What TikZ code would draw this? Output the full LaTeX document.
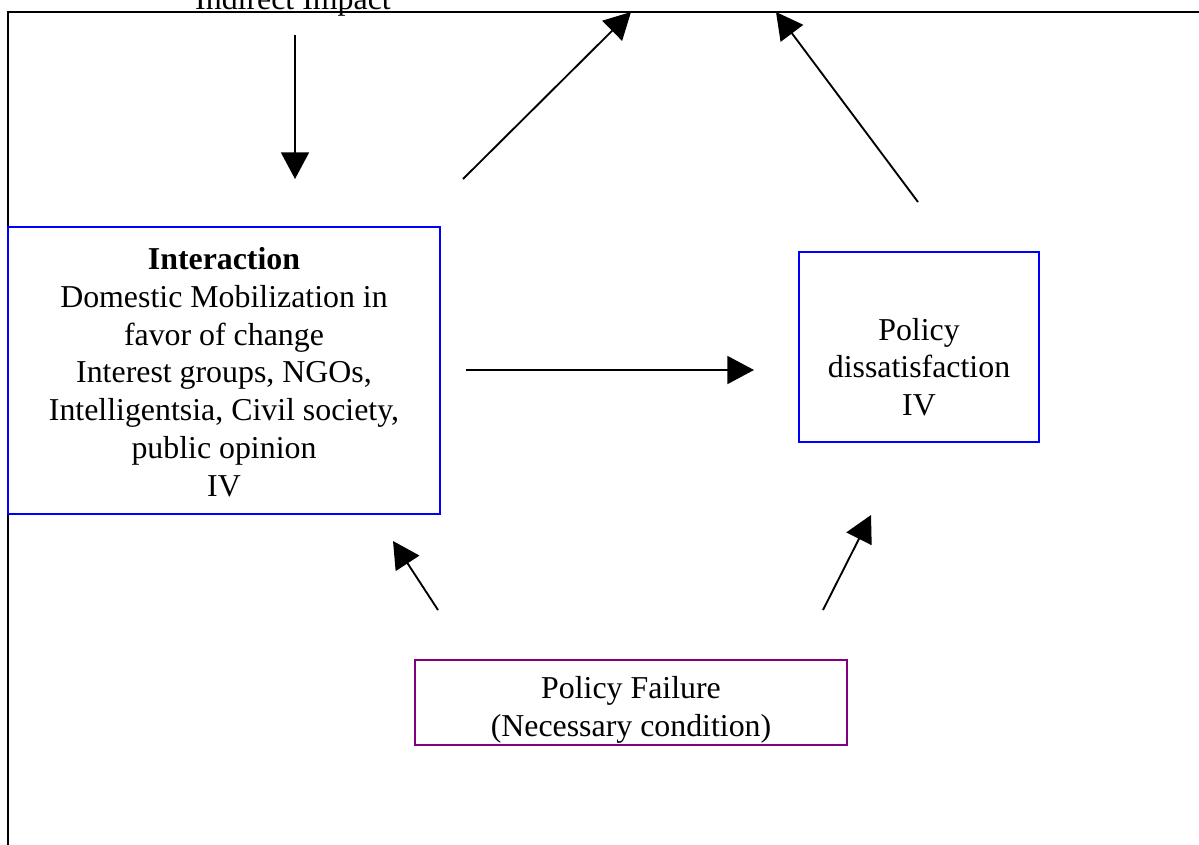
\documentclass[tikz,border=0pt]{standalone}
\usepackage{fontspec}
\setmainfont{Liberation Serif}
\usetikzlibrary{arrows.meta}
\definecolor{boxblue}{RGB}{0,0,255}
\definecolor{boxpurple}{RGB}{128,0,128}
\begin{document}
\begin{tikzpicture}[x=0.75pt,y=-0.75pt,
  txt/.style={align=center,inner sep=0pt,font=\fontsize{23.9}{28.35}\selectfont},
  bluebox/.style={draw=boxblue,line width=1.1pt,inner sep=0pt},
  purplebox/.style={draw=boxpurple,line width=1.1pt,inner sep=0pt},
  arr/.style={line width=1.4pt,-{Triangle[length=20pt,width=21pt]}},
  frame/.style={line width=2pt}]
\useasboundingbox (0,0) rectangle (1199,844);
% frame
\coordinate (fb) at (8,900);
\coordinate (fc) at (8,12);
\coordinate (fr) at (1260,12);
\draw[frame] (fb) -- (fc) -- (fr);
% top label (cut off by page edge, as in the reference)
\node[txt,anchor=base] (ind) at (293,9) {Indirect Impact};
% boxes (sizes in pt = px * 0.75)
\node[bluebox,minimum width=324pt,minimum height=215.25pt] (inter) at (224,370.5) {};
\node[txt] (intert) at (224,372) {\textbf{Interaction}\\Domestic Mobilization in\\favor of change\\Interest groups, NGOs,\\Intelligentsia, Civil society,\\public opinion\\IV};
\node[bluebox,minimum width=180pt,minimum height=142.5pt] (pd) at (919,347) {};
\node[txt] (pdt) at (919,367) {Policy\\dissatisfaction\\IV};
\node[purplebox,minimum width=324pt,minimum height=63.75pt] (pf) at (631,702.5) {};
\node[txt] (pft) at (631,710) {Policy Failure\\(Necessary condition)};
% arrow end points
\coordinate (a1s) at (295,35);  \coordinate (a1e) at (295,179);
\coordinate (a2s) at (463,179); \coordinate (a2e) at (631,12);
\coordinate (a3s) at (918,202); \coordinate (a3e) at (776,12);
\coordinate (a4s) at (466,370); \coordinate (a4e) at (754,370);
\coordinate (a5s) at (438,610); \coordinate (a5e) at (393,541);
\coordinate (a6s) at (823,610); \coordinate (a6e) at (871,515);
\draw[arr] (a1s) -- (a1e);
\draw[arr] (a2s) -- (a2e);
\draw[arr] (a3s) -- (a3e);
\draw[arr] (a4s) -- (a4e);
\draw[arr] (a5s) -- (a5e);
\draw[arr] (a6s) -- (a6e);
\end{tikzpicture}
\end{document}
